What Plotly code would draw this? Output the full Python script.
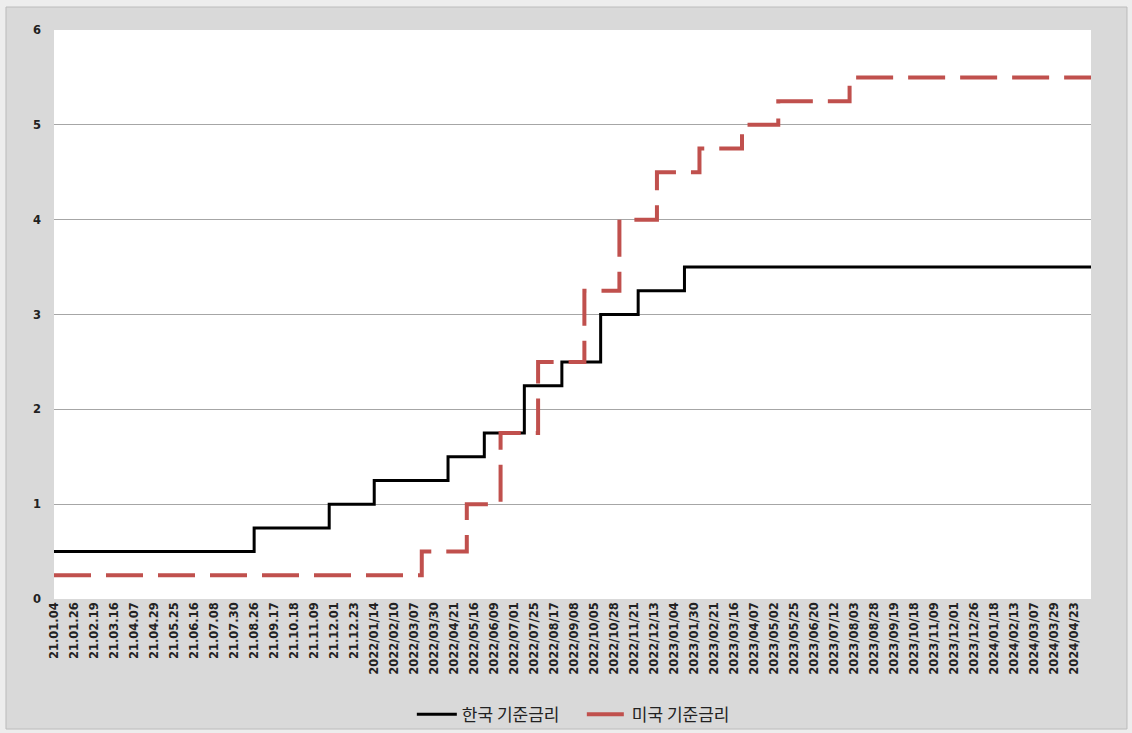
import plotly.graph_objects as go

# Category-axis labels (one every 16 business days)
tick_labels = [
    "21.01.04", "21.01.26", "21.02.19", "21.03.16", "21.04.07", "21.04.29",
    "21.05.25", "21.06.16", "21.07.08", "21.07.30", "21.08.26", "21.09.17",
    "21.10.18", "21.11.09", "21.12.01", "21.12.23", "2022/01/14", "2022/02/10",
    "2022/03/07", "2022/03/30", "2022/04/21", "2022/05/16", "2022/06/09",
    "2022/07/01", "2022/07/25", "2022/08/17", "2022/09/08", "2022/10/05",
    "2022/10/28", "2022/11/21", "2022/12/13", "2023/01/04", "2023/01/30",
    "2023/02/21", "2023/03/16", "2023/04/07", "2023/05/02", "2023/05/25",
    "2023/06/20", "2023/07/12", "2023/08/03", "2023/08/28", "2023/09/19",
    "2023/10/18", "2023/11/09", "2023/12/01", "2023/12/26", "2024/01/18",
    "2024/02/13", "2024/03/07", "2024/03/29", "2024/04/23",
]
label_every = 16
last_day_idx = 829  # index of the final business day in the series

# Korea base rate: business-day index where each new rate takes effect
kr_change_idx = [0, 160, 220, 256, 315, 344, 376, 406, 437, 467, 504]
kr_rate = [0.50, 0.75, 1.00, 1.25, 1.50, 1.75, 2.25, 2.50, 3.00, 3.25, 3.50]

# US federal funds rate (upper bound)
us_change_idx = [0, 294, 330, 357, 387, 424, 452, 482, 516, 550, 579, 636]
us_rate = [0.25, 0.50, 1.00, 1.75, 2.50, 3.25, 4.00, 4.50, 4.75, 5.00, 5.25, 5.50]

kr_name = "한국 기준금리"
us_name = "미국 기준금리"

fig = go.Figure()
fig.add_trace(go.Scatter(
    x=kr_change_idx + [last_day_idx],
    y=kr_rate + [kr_rate[-1]],
    mode="lines", line_shape="hv", name=kr_name,
    line=dict(color="#000000", width=3),
))
fig.add_trace(go.Scatter(
    x=us_change_idx + [last_day_idx],
    y=us_rate + [us_rate[-1]],
    mode="lines", line_shape="hv", name=us_name,
    line=dict(color="#c0504d", width=4, dash="37px,15px"),
))

# Grey chart-area frame, then the white plot area on top of it
fig.add_shape(
    type="rect", xref="paper", yref="paper",
    x0=-0.0463, x1=1.0347, y0=-0.2285, y1=1.0404,
    fillcolor="#d9d9d9", line=dict(color="#bcbcbc", width=1), layer="below",
)
fig.add_shape(
    type="rect", xref="paper", yref="paper",
    x0=0, x1=1, y0=0, y1=1,
    fillcolor="#ffffff", line=dict(width=0), layer="below",
)

fig.update_layout(
    width=1132, height=733,
    margin=dict(l=54, r=41, t=30, b=134, autoexpand=False),
    paper_bgcolor="#ededed", plot_bgcolor="#ffffff",
    font=dict(family="DejaVu Sans", color="#222222"),
    showlegend=True,
    legend=dict(
        orientation="h", x=0.509, xanchor="center",
        yref="container", y=0.025, yanchor="middle",
        font=dict(family="Noto Sans CJK KR", size=17, color="#222222"),
        bgcolor="rgba(0,0,0,0)", itemwidth=40, tracegroupgap=0,
        entrywidth=115, entrywidthmode="pixels",
    ),
    xaxis=dict(
        range=[0, last_day_idx],
        tickmode="array",
        tickvals=[i * label_every for i in range(len(tick_labels))],
        ticktext=tick_labels,
        tickangle=-90,
        tickfont=dict(family="DejaVu Sans", size=11.5, weight="bold", color="#222222"),
        showgrid=False, zeroline=False, showline=False, ticks="",
        automargin=False,
    ),
    yaxis=dict(
        range=[0, 6], tickmode="linear", tick0=0, dtick=1,
        tickfont=dict(family="DejaVu Sans", size=11.5, weight="bold", color="#222222"),
        showgrid=True, gridcolor="#a6a6a6", gridwidth=1,
        zeroline=False, showline=False, ticks="",
        ticklabelstandoff=12, automargin=False,
    ),
)

fig.write_html("out.html")
